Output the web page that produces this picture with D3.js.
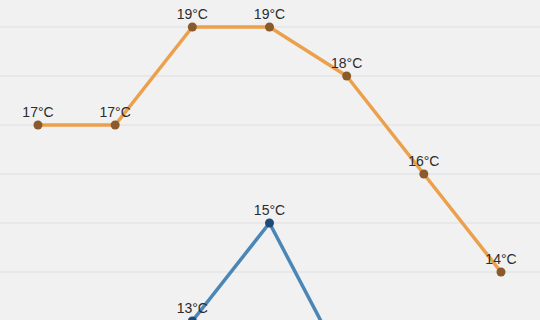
<!DOCTYPE html>
<html>
<head>
<meta charset="utf-8">
<script src="https://cdn.jsdelivr.net/npm/d3@7"></script>
<style>
    body { margin: 0; background: #f1f1f1; }
    svg { display: block; }
    .label { font-family: "Liberation Sans", Arial, sans-serif; font-size: 14px; fill: #2b2b2b; }
</style>
</head>
<body>
<svg id="chart"></svg>
<script>
// dagar (index), höga och låga temperaturer
const days = [0, 1, 2, 3, 4, 5, 6];
const highs = [17, 17, 19, 19, 18, 16, 14];
const lows = [null, null, 13, 15, 12, null, null];
const gridTemps = [19, 18, 17, 16, 15, 14, 13];

const wsvg = 540;
const hsvg = 320;

const svg = d3.select("#chart")
    .attr("width", wsvg)
    .attr("height", hsvg);

const xScale = d3.scaleLinear([0, 6], [38, 501]);
const yScale = d3.scaleLinear([19, 13], [27, 321]);

// bakgrundslinjer
svg.append("g")
    .selectAll("line")
    .data(gridTemps)
    .enter()
    .append("line")
    .attr("x1", 0)
    .attr("x2", wsvg)
    .attr("y1", d => yScale(d))
    .attr("y2", d => yScale(d))
    .attr("stroke", "#dfdfdf")
    .attr("stroke-width", 1.2);

function drawSeries(values, lineColor, dotColor) {
    const data = days.map(i => ({ day: i, temp: values[i] }));
    const line = d3.line()
        .defined(d => d.temp !== null)
        .x(d => xScale(d.day))
        .y(d => yScale(d.temp));

    svg.append("path")
        .datum(data)
        .attr("d", line)
        .attr("fill", "none")
        .attr("stroke", lineColor)
        .attr("stroke-width", 3.5)
        .attr("stroke-linejoin", "round");

    const shown = data.filter(d => d.temp !== null);

    svg.append("g")
        .selectAll("circle")
        .data(shown)
        .enter()
        .append("circle")
        .attr("cx", d => xScale(d.day))
        .attr("cy", d => yScale(d.temp))
        .attr("r", 4.5)
        .attr("fill", dotColor);

    // bara etiketter som syns i bilden
    const labelled = shown.filter(d => yScale(d.temp) - 8 < hsvg);

    svg.append("g")
        .selectAll("text")
        .data(labelled)
        .enter()
        .append("text")
        .attr("class", "label")
        .attr("x", d => xScale(d.day))
        .attr("y", d => yScale(d.temp) - 8)
        .attr("text-anchor", "middle")
        .text(d => `${d.temp}°C`);
}

drawSeries(highs, "#eba04c", "#8a5a2c");
drawSeries(lows, "#4a86b6", "#1f4a78");
</script>
</body>
</html>
